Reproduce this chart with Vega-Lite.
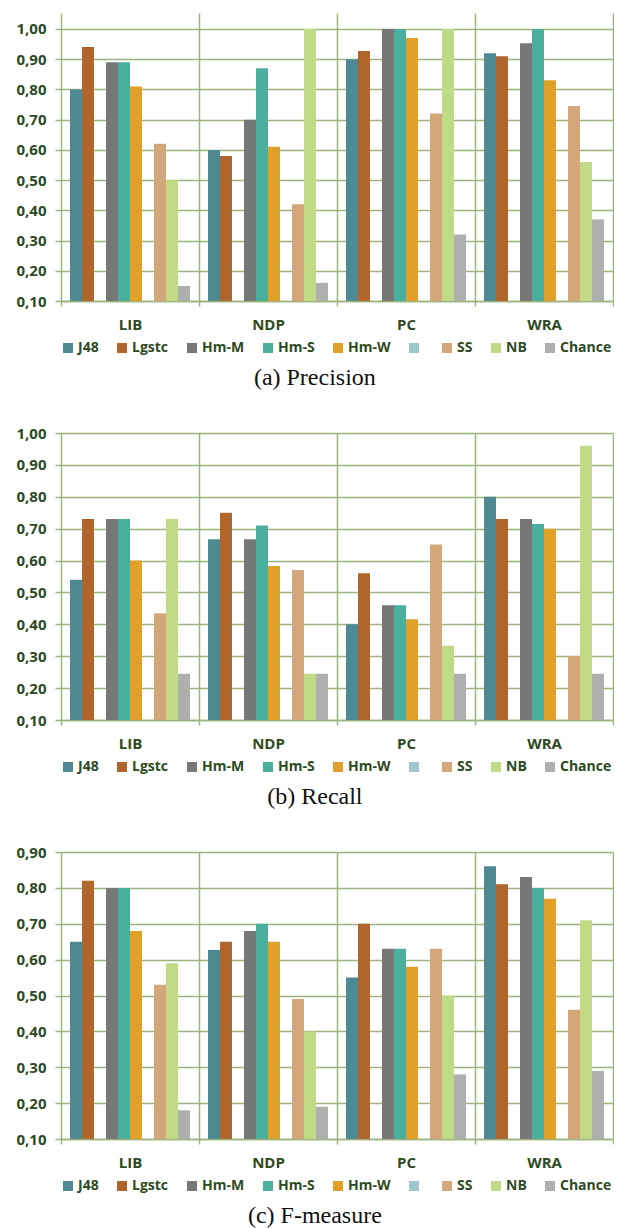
{
  "$schema": "https://vega.github.io/schema/vega-lite/v6.json",
  "padding": {"top": 13, "left": 15, "right": 0, "bottom": 0},
  "background": "white",
  "datasets": {
    "precision": [
      {"group": "LIB", "series": "J48", "value": 0.80},
      {"group": "LIB", "series": "Lgstc", "value": 0.94},
      {"group": "LIB", "series": "Hm-M", "value": 0.89},
      {"group": "LIB", "series": "Hm-S", "value": 0.89},
      {"group": "LIB", "series": "Hm-W", "value": 0.81},
      {"group": "LIB", "series": "SS", "value": 0.62},
      {"group": "LIB", "series": "NB", "value": 0.50},
      {"group": "LIB", "series": "Chance", "value": 0.15},
      {"group": "NDP", "series": "J48", "value": 0.60},
      {"group": "NDP", "series": "Lgstc", "value": 0.58},
      {"group": "NDP", "series": "Hm-M", "value": 0.70},
      {"group": "NDP", "series": "Hm-S", "value": 0.87},
      {"group": "NDP", "series": "Hm-W", "value": 0.61},
      {"group": "NDP", "series": "SS", "value": 0.42},
      {"group": "NDP", "series": "NB", "value": 1.00},
      {"group": "NDP", "series": "Chance", "value": 0.16},
      {"group": "PC", "series": "J48", "value": 0.90},
      {"group": "PC", "series": "Lgstc", "value": 0.927},
      {"group": "PC", "series": "Hm-M", "value": 1.00},
      {"group": "PC", "series": "Hm-S", "value": 1.00},
      {"group": "PC", "series": "Hm-W", "value": 0.97},
      {"group": "PC", "series": "SS", "value": 0.72},
      {"group": "PC", "series": "NB", "value": 1.00},
      {"group": "PC", "series": "Chance", "value": 0.32},
      {"group": "WRA", "series": "J48", "value": 0.92},
      {"group": "WRA", "series": "Lgstc", "value": 0.91},
      {"group": "WRA", "series": "Hm-M", "value": 0.953},
      {"group": "WRA", "series": "Hm-S", "value": 1.00},
      {"group": "WRA", "series": "Hm-W", "value": 0.83},
      {"group": "WRA", "series": "SS", "value": 0.745},
      {"group": "WRA", "series": "NB", "value": 0.56},
      {"group": "WRA", "series": "Chance", "value": 0.37}
    ],
    "recall": [
      {"group": "LIB", "series": "J48", "value": 0.54},
      {"group": "LIB", "series": "Lgstc", "value": 0.73},
      {"group": "LIB", "series": "Hm-M", "value": 0.73},
      {"group": "LIB", "series": "Hm-S", "value": 0.73},
      {"group": "LIB", "series": "Hm-W", "value": 0.60},
      {"group": "LIB", "series": "SS", "value": 0.435},
      {"group": "LIB", "series": "NB", "value": 0.73},
      {"group": "LIB", "series": "Chance", "value": 0.245},
      {"group": "NDP", "series": "J48", "value": 0.667},
      {"group": "NDP", "series": "Lgstc", "value": 0.75},
      {"group": "NDP", "series": "Hm-M", "value": 0.667},
      {"group": "NDP", "series": "Hm-S", "value": 0.71},
      {"group": "NDP", "series": "Hm-W", "value": 0.583},
      {"group": "NDP", "series": "SS", "value": 0.57},
      {"group": "NDP", "series": "NB", "value": 0.245},
      {"group": "NDP", "series": "Chance", "value": 0.245},
      {"group": "PC", "series": "J48", "value": 0.40},
      {"group": "PC", "series": "Lgstc", "value": 0.56},
      {"group": "PC", "series": "Hm-M", "value": 0.46},
      {"group": "PC", "series": "Hm-S", "value": 0.46},
      {"group": "PC", "series": "Hm-W", "value": 0.416},
      {"group": "PC", "series": "SS", "value": 0.65},
      {"group": "PC", "series": "NB", "value": 0.333},
      {"group": "PC", "series": "Chance", "value": 0.245},
      {"group": "WRA", "series": "J48", "value": 0.80},
      {"group": "WRA", "series": "Lgstc", "value": 0.73},
      {"group": "WRA", "series": "Hm-M", "value": 0.73},
      {"group": "WRA", "series": "Hm-S", "value": 0.715},
      {"group": "WRA", "series": "Hm-W", "value": 0.70},
      {"group": "WRA", "series": "SS", "value": 0.30},
      {"group": "WRA", "series": "NB", "value": 0.96},
      {"group": "WRA", "series": "Chance", "value": 0.245}
    ],
    "fmeasure": [
      {"group": "LIB", "series": "J48", "value": 0.65},
      {"group": "LIB", "series": "Lgstc", "value": 0.82},
      {"group": "LIB", "series": "Hm-M", "value": 0.80},
      {"group": "LIB", "series": "Hm-S", "value": 0.80},
      {"group": "LIB", "series": "Hm-W", "value": 0.68},
      {"group": "LIB", "series": "SS", "value": 0.53},
      {"group": "LIB", "series": "NB", "value": 0.59},
      {"group": "LIB", "series": "Chance", "value": 0.18},
      {"group": "NDP", "series": "J48", "value": 0.627},
      {"group": "NDP", "series": "Lgstc", "value": 0.65},
      {"group": "NDP", "series": "Hm-M", "value": 0.68},
      {"group": "NDP", "series": "Hm-S", "value": 0.70},
      {"group": "NDP", "series": "Hm-W", "value": 0.65},
      {"group": "NDP", "series": "SS", "value": 0.49},
      {"group": "NDP", "series": "NB", "value": 0.40},
      {"group": "NDP", "series": "Chance", "value": 0.19},
      {"group": "PC", "series": "J48", "value": 0.55},
      {"group": "PC", "series": "Lgstc", "value": 0.70},
      {"group": "PC", "series": "Hm-M", "value": 0.63},
      {"group": "PC", "series": "Hm-S", "value": 0.63},
      {"group": "PC", "series": "Hm-W", "value": 0.58},
      {"group": "PC", "series": "SS", "value": 0.63},
      {"group": "PC", "series": "NB", "value": 0.50},
      {"group": "PC", "series": "Chance", "value": 0.28},
      {"group": "WRA", "series": "J48", "value": 0.86},
      {"group": "WRA", "series": "Lgstc", "value": 0.81},
      {"group": "WRA", "series": "Hm-M", "value": 0.83},
      {"group": "WRA", "series": "Hm-S", "value": 0.80},
      {"group": "WRA", "series": "Hm-W", "value": 0.77},
      {"group": "WRA", "series": "SS", "value": 0.46},
      {"group": "WRA", "series": "NB", "value": 0.71},
      {"group": "WRA", "series": "Chance", "value": 0.29}
    ]
  },
  "resolve": {"scale": {"y": "independent"}, "legend": {"color": "independent"}},
  "spacing": 36,
  "config": {
    "view": {"stroke": null},
    "axis": {
      "gridColor": "#9DB37E", "gridWidth": 1.5, "gridOpacity": 1,
      "domainColor": "#9DB37E", "domainWidth": 1.5,
      "tickColor": "#9DB37E", "tickWidth": 1.5,
      "labelFont": "Open Sans", "labelFontWeight": "bold", "labelFontSize": 15, "labelColor": "#2E4A1E",
      "title": null
    },
    "legend": {
      "orient": "bottom", "direction": "horizontal", "title": null,
      "symbolType": "square", "symbolSize": 100, "symbolStrokeWidth": 0, "symbolOpacity": 1,
      "labelFont": "Open Sans", "labelFontWeight": "bold", "labelFontSize": 14, "labelColor": "#2E4A1E",
      "labelOffset": 3, "columnPadding": 16, "offset": 9
    },
    "title": {"orient": "bottom", "font": "Liberation Serif", "fontSize": 24, "fontWeight": "normal", "color": "#111111", "offset": 11, "anchor": "middle", "frame": "bounds"}
  },
  "vconcat": [
    {
      "data": {"name": "precision"},
      "title": "(a) Precision",
      "width": 552, "height": 288,
      "mark": {"type": "bar"},
      "encoding": {
        "x": {"field": "group", "type": "nominal", "scale": {"paddingInner": 0, "paddingOuter": 0},
              "axis": {"tickBand": "extent", "grid": true, "labelAngle": 0, "tickSize": 5, "labelPadding": 11,
                       "gridOpacity": {"condition": {"test": "datum.extra || (datum.value === 'LIB' && datum.index > 0)", "value": 0}, "value": 1}}},
        "xOffset": {"field": "series", "type": "nominal",
                    "scale": {"domain": ["J48", "Lgstc", "gap", "Hm-M", "Hm-S", "Hm-W", "blank", "SS", "NB", "Chance"], "paddingInner": 0, "paddingOuter": 0.75}},
        "y": {"field": "value", "type": "quantitative",
              "scale": {"domain": [0.1, 1.0529], "zero": false, "nice": false},
              "axis": {"values": [0.1, 0.2, 0.3, 0.4, 0.5, 0.6, 0.7, 0.8, 0.9, 1.0], "tickSize": 6, "labelPadding": 9,
                       "labelExpr": "replace(format(datum.value, '.2f'), '.', ',')"}},
        "y2": {"datum": 0.1},
        "color": {"field": "series", "type": "nominal",
                  "scale": {"domain": ["J48", "Lgstc", "Hm-M", "Hm-S", "Hm-W", "blank", "SS", "NB", "Chance"],
                            "range": ["#4F8A93", "#B0652D", "#777777", "#4BAF9D", "#E0A02A", "#9FC5CF", "#D4A77B", "#C0DA85", "#ADB0AD"]},
                  "legend": {"labelExpr": "datum.label == 'blank' ? '' : datum.label"}}
      }
    },
    {
      "data": {"name": "recall"},
      "title": "(b) Recall",
      "width": 552, "height": 287,
      "mark": {"type": "bar"},
      "encoding": {
        "x": {"field": "group", "type": "nominal", "scale": {"paddingInner": 0, "paddingOuter": 0},
              "axis": {"tickBand": "extent", "grid": true, "labelAngle": 0, "tickSize": 5, "labelPadding": 11,
                       "gridOpacity": {"condition": {"test": "datum.extra || (datum.value === 'LIB' && datum.index > 0)", "value": 0}, "value": 1}}},
        "xOffset": {"field": "series", "type": "nominal",
                    "scale": {"domain": ["J48", "Lgstc", "gap", "Hm-M", "Hm-S", "Hm-W", "blank", "SS", "NB", "Chance"], "paddingInner": 0, "paddingOuter": 0.75}},
        "y": {"field": "value", "type": "quantitative",
              "scale": {"domain": [0.1, 1.0], "zero": false, "nice": false},
              "axis": {"values": [0.1, 0.2, 0.3, 0.4, 0.5, 0.6, 0.7, 0.8, 0.9, 1.0], "tickSize": 6, "labelPadding": 9,
                       "labelExpr": "replace(format(datum.value, '.2f'), '.', ',')"}},
        "y2": {"datum": 0.1},
        "color": {"field": "series", "type": "nominal",
                  "scale": {"domain": ["J48", "Lgstc", "Hm-M", "Hm-S", "Hm-W", "blank", "SS", "NB", "Chance"],
                            "range": ["#4F8A93", "#B0652D", "#777777", "#4BAF9D", "#E0A02A", "#9FC5CF", "#D4A77B", "#C0DA85", "#ADB0AD"]},
                  "legend": {"labelExpr": "datum.label == 'blank' ? '' : datum.label"}}
      }
    },
    {
      "data": {"name": "fmeasure"},
      "title": "(c) F-measure",
      "width": 552, "height": 287,
      "mark": {"type": "bar"},
      "encoding": {
        "x": {"field": "group", "type": "nominal", "scale": {"paddingInner": 0, "paddingOuter": 0},
              "axis": {"tickBand": "extent", "grid": true, "labelAngle": 0, "tickSize": 5, "labelPadding": 11,
                       "gridOpacity": {"condition": {"test": "datum.extra || (datum.value === 'LIB' && datum.index > 0)", "value": 0}, "value": 1}}},
        "xOffset": {"field": "series", "type": "nominal",
                    "scale": {"domain": ["J48", "Lgstc", "gap", "Hm-M", "Hm-S", "Hm-W", "blank", "SS", "NB", "Chance"], "paddingInner": 0, "paddingOuter": 0.75}},
        "y": {"field": "value", "type": "quantitative",
              "scale": {"domain": [0.1, 0.9], "zero": false, "nice": false},
              "axis": {"values": [0.1, 0.2, 0.3, 0.4, 0.5, 0.6, 0.7, 0.8, 0.9], "tickSize": 6, "labelPadding": 9,
                       "labelExpr": "replace(format(datum.value, '.2f'), '.', ',')"}},
        "y2": {"datum": 0.1},
        "color": {"field": "series", "type": "nominal",
                  "scale": {"domain": ["J48", "Lgstc", "Hm-M", "Hm-S", "Hm-W", "blank", "SS", "NB", "Chance"],
                            "range": ["#4F8A93", "#B0652D", "#777777", "#4BAF9D", "#E0A02A", "#9FC5CF", "#D4A77B", "#C0DA85", "#ADB0AD"]},
                  "legend": {"labelExpr": "datum.label == 'blank' ? '' : datum.label"}}
      }
    }
  ]
}
